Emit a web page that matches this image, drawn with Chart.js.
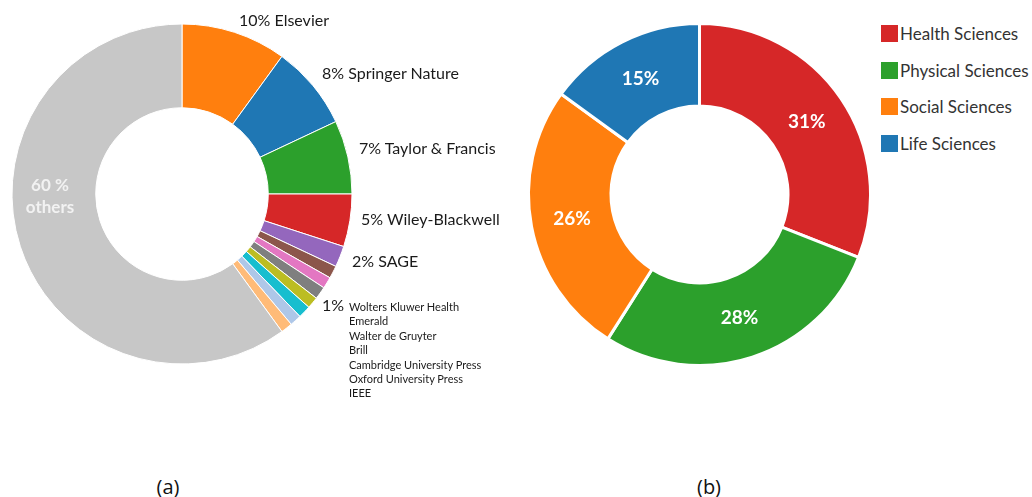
<!DOCTYPE html>
<html>
<head>
<meta charset="utf-8">
<script src="https://cdn.jsdelivr.net/npm/chart.js@4"></script>
<style>
    body { margin: 0; background: #fff; font-family: Lato, "Open Sans", sans-serif; }
    .page { position: relative; width: 1032px; height: 497px; overflow: hidden; }
    .box { position: absolute; }
    .lbl { position: absolute; color: #1a1a1a; white-space: nowrap; line-height: 1; transform: translateY(-50%); }
    .big { font-size: 16px; }
    .small { font-size: 11px; }
    .in { position: absolute; color: #f2f2f2; font-weight: bold; font-size: 17px; text-align: center; transform: translate(-50%, -50%); line-height: 1.3; }
    .legend { position: absolute; left: 881px; top: 25px; }
    .legend div { display: flex; align-items: center; height: 17px; margin-bottom: 19.5px; font-size: 17px; color: #333; white-space: nowrap; }
    .legend span.sw { width: 17px; height: 17px; margin-right: 2px; display: inline-block; }
    .cap { position: absolute; font-family: "Open Sans", sans-serif; font-size: 20px; color: #111; transform: translate(-50%, -50%); }
</style>
</head>
<body>
<div class="page">
    <div class="box" style="left:0; top:24px; width:364px; height:340px;"><canvas id="publishers"></canvas></div>
    <div class="box" style="left:518px; top:23px; width:363px; height:343px;"><canvas id="fields"></canvas></div>

    <div class="lbl big" style="left:239px; top:20px;">10% Elsevier</div>
    <div class="lbl big" style="left:322px; top:73px;">8% Springer Nature</div>
    <div class="lbl big" style="left:359px; top:148px;">7% Taylor &amp; Francis</div>
    <div class="lbl big" style="left:361px; top:219px;">5% Wiley-Blackwell</div>
    <div class="lbl big" style="left:352px; top:261px;">2% SAGE</div>
    <div class="lbl big" style="left:322px; top:305px;">1%</div>
    <div id="smallList"></div>
    <div class="in" style="left:50px; top:196px;">60 %<br>others</div>

    <div class="legend" id="legend"></div>

    <div class="cap" style="left:168px; top:486px;">(a)</div>
    <div class="cap" style="left:709px; top:486px;">(b)</div>
</div>

<script>
// (a) publishers share
const pubLabels = ['Elsevier', 'Springer Nature', 'Taylor & Francis', 'Wiley-Blackwell', 'SAGE',
    'Wolters Kluwer Health', 'Emerald', 'Walter de Gruyter', 'Brill',
    'Cambridge University Press', 'Oxford University Press', 'IEEE', 'others'];
const pubValues = [10, 8, 7, 5, 2, 1.2, 1.1, 1.2, 1.1, 1.2, 1.1, 1.1, 60];
const pubColors = ['#ff7f0e', '#1f77b4', '#2ca02c', '#d62728', '#9467bd', '#8c564b', '#e377c2',
    '#7f7f7f', '#bcbd22', '#17becf', '#aec7e8', '#ffbb78', '#c7c7c7'];

// (b) subject fields
const fieldLabels = ['Health Sciences', 'Physical Sciences', 'Social Sciences', 'Life Sciences'];
const fieldValues = [31, 28, 26, 15];
const fieldColors = ['#d62728', '#2ca02c', '#ff7f0e', '#1f77b4'];

// small 1% publishers listed under the "1%" label
const smallList = document.getElementById('smallList');
pubLabels.slice(5, 12).forEach((name, i) => {
    const d = document.createElement('div');
    d.className = 'lbl small';
    d.style.left = '349px';
    d.style.top = (306 + i * 14.4) + 'px';
    d.textContent = name;
    smallList.appendChild(d);
});

const legend = document.getElementById('legend');
fieldLabels.forEach((name, i) => {
    const row = document.createElement('div');
    row.innerHTML = '<span class="sw" style="background:' + fieldColors[i] + '"></span>' + name;
    legend.appendChild(row);
});

// percentage text inside each arc
const arcText = {
    id: 'arcText',
    afterDatasetsDraw(chart) {
        const ctx = chart.ctx;
        const meta = chart.getDatasetMeta(0);
        ctx.save();
        ctx.fillStyle = '#fff';
        ctx.font = 'bold 19px Lato, sans-serif';
        ctx.textAlign = 'center';
        ctx.textBaseline = 'middle';
        meta.data.forEach((arc, i) => {
            const p = arc.tooltipPosition();
            ctx.fillText(chart.data.datasets[0].data[i] + '%', p.x, p.y);
        });
        ctx.restore();
    }
};

const common = {
    responsive: true,
    maintainAspectRatio: false,
    animation: false,
    events: [],
    layout: { padding: 0 },
    plugins: { legend: { display: false }, tooltip: { enabled: false } }
};

new Chart(document.getElementById('publishers'), {
    type: 'doughnut',
    data: {
        labels: pubLabels,
        datasets: [{
            data: pubValues,
            backgroundColor: pubColors,
            borderColor: '#fff',
            borderWidth: 1,
            hoverOffset: 0
        }]
    },
    options: Object.assign({}, common, { radius: 170, cutout: 86 })
});

new Chart(document.getElementById('fields'), {
    type: 'doughnut',
    data: {
        labels: fieldLabels,
        datasets: [{
            data: fieldValues,
            backgroundColor: fieldColors,
            borderColor: '#fff',
            borderWidth: 3,
            hoverOffset: 0
        }]
    },
    options: Object.assign({}, common, { radius: 171, cutout: 88 }),
    plugins: [arcText]
});
</script>
</body>
</html>
